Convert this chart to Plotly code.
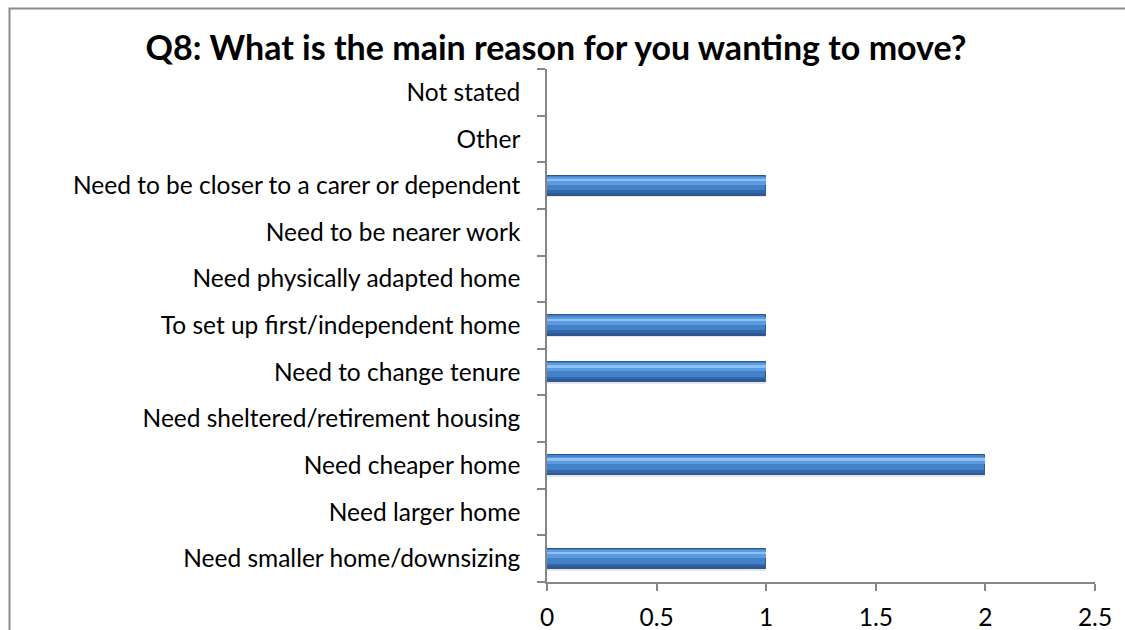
import plotly.graph_objects as go

# Survey answers, listed bottom-to-top as they appear on the chart
reasons = [
    "Need smaller home/downsizing",
    "Need larger home",
    "Need cheaper home",
    "Need sheltered/retirement housing",
    "Need to change tenure",
    "To set up first/independent home",
    "Need physically adapted home",
    "Need to be nearer work",
    "Need to be closer to a carer or dependent",
    "Other",
    "Not stated",
]
responses = [1, 0, 2, 0, 1, 1, 0, 0, 1, 0, 0]

x_ticks = [0, 0.5, 1, 1.5, 2, 2.5]
x_tick_text = ["0", "0.5", "1", "1.5", "2", "2.5"]

title_text = "Q8: What is the main reason for you wanting to move?"

FONT = "Lato"
AXIS_GREY = "#868686"

fig = go.Figure()


def bar_layer(width, offset, color, line=None):
    fig.add_trace(go.Bar(
        y=reasons, x=responses, orientation="h",
        width=width, offset=offset,
        marker=dict(color=color, line=line or dict(width=0)),
        hoverinfo="skip", showlegend=False,
    ))


# Soft shadow under each bar
bar_layer(0.05, -0.255, "#e6e6e6")
# Bevelled bar look: body, darker lower edge, lighter upper half, highlight strip
bar_layer(0.43, -0.215, "#4381c9", dict(color="#2d5690", width=1))
bar_layer(0.10, -0.205, "#3567a6")
bar_layer(0.05, -0.205, "#2d5a95")
bar_layer(0.17, 0.02, "#5d9be0")
bar_layer(0.06, 0.09, "#8cc3f4")

fig.update_layout(
    width=1125,
    height=630,
    margin=dict(l=547, r=30, t=69, b=48, autoexpand=False),
    paper_bgcolor="white",
    plot_bgcolor="white",
    barmode="overlay",
    bargap=0,
    font=dict(family=FONT, size=24, color="#000000"),
    title=dict(
        text="<b>" + title_text + "</b>",
        x=556 / 1125, xref="container", xanchor="center",
        y=1 - 48 / 630, yref="container", yanchor="middle",
        font=dict(family=FONT, size=34, color="#000000"),
    ),
    xaxis=dict(
        range=[0, 2.5],
        tickvals=x_ticks,
        ticktext=x_tick_text,
        showgrid=False,
        zeroline=False,
        showline=True,
        linecolor=AXIS_GREY,
        linewidth=1.5,
        ticks="outside",
        ticklen=7,
        tickcolor=AXIS_GREY,
        tickwidth=1.5,
        tickfont=dict(family=FONT, size=24.5),
        ticklabelstandoff=6,
        automargin=False,
        fixedrange=True,
    ),
    yaxis=dict(
        type="category",
        categoryorder="array",
        categoryarray=reasons,
        range=[-0.5, len(reasons) - 0.5],
        showgrid=False,
        zeroline=False,
        showline=True,
        linecolor=AXIS_GREY,
        linewidth=1.5,
        ticks="outside",
        tickson="boundaries",
        ticklen=8,
        tickcolor=AXIS_GREY,
        tickwidth=1.5,
        tickfont=dict(family=FONT, size=24.5),
        ticklabelstandoff=20,
        automargin=False,
        fixedrange=True,
    ),
)

# Chart frame around the whole figure area
fig.add_shape(
    type="rect", xref="paper", yref="paper",
    x0=(9.5 - 547) / 548, x1=(1135 - 547) / 548,
    y0=(582 - 640) / 513, y1=(582 - 8.5) / 513,
    line=dict(color="#8c8c8c", width=2),
    fillcolor="rgba(0,0,0,0)",
    layer="below",
)

fig.write_html("out.html")
